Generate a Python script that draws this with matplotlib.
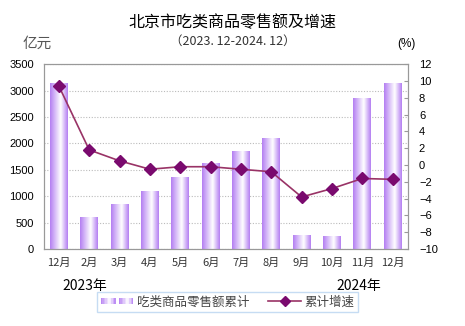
import numpy as np
import matplotlib.pyplot as plt
from matplotlib.colors import LinearSegmentedColormap
from matplotlib.legend_handler import HandlerBase
from matplotlib.patches import Rectangle
from matplotlib.lines import Line2D

plt.rcParams['font.family'] = ['Liberation Sans', 'Noto Sans CJK SC', 'DejaVu Sans']

# Data
months = ["12月", "2月", "3月", "4月", "5月", "6月", "7月", "8月", "9月", "10月", "11月", "12月"]
sales = [3140, 590, 840, 1090, 1360, 1610, 1850, 2090, 260, 240, 2850, 3140]
growth = [9.4, 1.8, 0.5, -0.5, -0.2, -0.2, -0.5, -0.8, -3.8, -2.8, -1.6, -1.7]

cjk = ['Noto Sans CJK SC', 'DejaVu Sans']
bar_cmap = LinearSegmentedColormap.from_list(
    "g", [(0, "#b47ff2"), (0.6, "#ffffff"), (1, "#b47ff2")])
grad = np.linspace(0, 1, 64).reshape(1, -1)

fig = plt.figure(figsize=(4.65, 3.26), dpi=100)
ax = fig.add_axes([0.094, 0.236, 0.783, 0.567])
ax2 = ax.twinx()

x = np.arange(len(months))
w = 0.58
for xi, v in zip(x, sales):
    ax.imshow(grad, cmap=bar_cmap, extent=[xi - w / 2, xi + w / 2, 0, v],
              aspect='auto', zorder=2, interpolation='bilinear')

ax.set_xlim(-0.5, len(months) - 0.5)
ax.set_ylim(0, 3500)
ax.set_yticks(range(0, 3501, 500))
ax.yaxis.grid(True, linestyle=(0, (1, 1.5)), color='#bbbbbb', linewidth=0.8)
ax.set_axisbelow(True)
ax.set_xticks(x)
ax.set_xticklabels(months, family=cjk, fontsize=8, color='#333333')

ax2.plot(x, growth, color='#993366', linewidth=1.2, marker='D', markersize=6,
         markerfacecolor='#7a0a6e', markeredgecolor='#7a0a6e', zorder=5)
ax2.set_ylim(-10, 12)
ax2.set_yticks(range(-10, 13, 2))

for a in (ax, ax2):
    for s in a.spines.values():
        s.set_color('#999999')
    a.tick_params(labelsize=8, length=0, pad=7)
ax.tick_params(axis='x', pad=6)
ax2.tick_params(axis='y', length=3, direction='in', color='#999999', pad=8)

fig.text(0.5, 0.932, "北京市吃类商品零售额及增速", ha='center', va='center',
         fontsize=11.5, family=cjk)
fig.text(0.5, 0.872, "（2023. 12-2024. 12）", ha='center', va='center',
         fontsize=9, family=cjk, color='#333333')
fig.text(0.08, 0.865, "亿元", ha='center', va='center', fontsize=10.5,
         family=cjk, color='#555555')
fig.text(0.873, 0.865, "(%)", ha='center', va='center', fontsize=8.5)
fig.text(0.183, 0.122, "2023年", ha='center', va='center', fontsize=10, family=cjk)
fig.text(0.772, 0.122, "2024年", ha='center', va='center', fontsize=10, family=cjk)


class GradHandler(HandlerBase):
    def create_artists(self, legend, orig, xd, yd, width, height, fontsize, trans):
        arts = []
        n = 10
        seg = width * 0.45
        for x0 in [xd, xd + width * 0.55]:
            for i in range(n):
                c = bar_cmap((i + 0.5) / n)
                r = Rectangle((x0 + seg * i / n, yd + height * 0.15), seg / n,
                              height * 0.7, facecolor=c, edgecolor='none',
                              transform=trans)
                arts.append(r)
        return arts


bar_handle = Rectangle((0, 0), 1, 1)
line_handle = Line2D([], [], color='#993366', linewidth=1.2, marker='D',
                     markersize=5, markerfacecolor='#7a0a6e',
                     markeredgecolor='#7a0a6e')
leg = fig.legend([bar_handle, line_handle], ["吃类商品零售额累计", "累计增速"],
                 handler_map={Rectangle: GradHandler()},
                 loc='center', bbox_to_anchor=(0.49, 0.073), ncol=2,
                 prop={'family': cjk, 'size': 9}, frameon=True, fancybox=False,
                 handlelength=2.6, columnspacing=1.5, handletextpad=0.3,
                 borderpad=0.3, borderaxespad=0)
leg.get_frame().set_edgecolor('#b8d4f0')
leg.get_frame().set_linewidth(1.0)
for t in leg.get_texts():
    t.set_color('#444444')

fig.savefig("out.png", dpi=100)
